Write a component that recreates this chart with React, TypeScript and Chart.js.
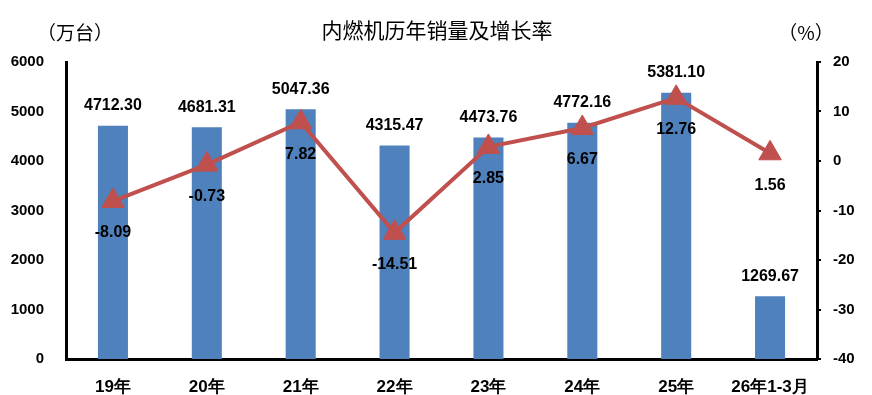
import React, { useEffect, useRef } from "react";
import { Chart, registerables } from "chart.js";

Chart.register(...registerables);

const categories = ["19年", "20年", "21年", "22年", "23年", "24年", "25年", "26年1-3月"];
const salesValues = [4712.30, 4681.31, 5047.36, 4315.47, 4473.76, 4772.16, 5381.10, 1269.67];
const growthValues: (number | null)[] = [-8.09, -0.73, 7.82, -14.51, 2.85, 6.67, 12.76, 1.56];
const titleText = "内燃机历年销量及增长率";
const leftUnit = "（万台）";
const rightUnit = "（%）";

const FONT = "'Liberation Sans', Arial, sans-serif";
const CJK = "'Noto Sans CJK SC', sans-serif";

export default function App() {
  const ref = useRef<HTMLCanvasElement | null>(null);
  useEffect(() => {
    if (!ref.current) return;
    const labelPlugin = {
      id: "labels",
      afterDatasetsDraw(chart: any) {
        const ctx = chart.ctx;
        ctx.save();
        ctx.fillStyle = "#000";
        ctx.textAlign = "center";
        ctx.textBaseline = "middle";
        ctx.font = `bold 16px ${FONT}`;
        const barMeta = chart.getDatasetMeta(0);
        barMeta.data.forEach((el: any, i: number) => {
          ctx.fillText(salesValues[i].toFixed(2), el.x, el.y - 20);
        });
        const lineMeta = chart.getDatasetMeta(1);
        lineMeta.data.forEach((el: any, i: number) => {
          const v = growthValues[i];
          if (v == null) return;
          ctx.fillText(v.toFixed(2), el.x, el.y + 32);
        });
        ctx.restore();
      },
      afterDraw(chart: any) {
        const ctx = chart.ctx;
        ctx.save();
        ctx.fillStyle = "#000";
        ctx.textAlign = "center";
        ctx.textBaseline = "middle";
        ctx.font = `21px ${CJK}`;
        ctx.fillText(titleText, 437, 30);
        ctx.font = `19px ${CJK}`;
        ctx.fillText(leftUnit, 75, 33);
        ctx.fillText(rightUnit, 806, 33);
        ctx.restore();
      },
    };
    const chart = new Chart(ref.current, {
      type: "bar",
      data: {
        labels: categories,
        datasets: [
          {
            type: "bar",
            data: salesValues,
            backgroundColor: "#4F81BD",
            yAxisID: "y",
            categoryPercentage: 1,
            barPercentage: 0.32,
            order: 2,
          },
          {
            type: "line",
            data: growthValues,
            borderColor: "#C0504D",
            backgroundColor: "#C0504D",
            borderWidth: 4,
            pointStyle: "triangle",
            pointRadius: 13,
            pointBackgroundColor: "#C0504D",
            pointBorderColor: "#C0504D",
            pointBorderWidth: 1,
            yAxisID: "y1",
            tension: 0,
            order: 1,
          } as any,
        ],
      },
      options: {
        animation: false,
        responsive: false,
        maintainAspectRatio: false,
        layout: { padding: { top: 62, left: 0, right: 0, bottom: 0 } },
        plugins: { legend: { display: false }, tooltip: { enabled: false }, title: { display: false } },
        scales: {
          x: {
            grid: { display: false },
            border: { display: true, color: "#000", width: 3 },
            ticks: { color: "#000", font: { family: FONT, size: 17, weight: "bold" }, padding: 10, maxRotation: 0 },
            afterFit(scale: any) { scale.height = 36; },
          },
          y: {
            position: "left",
            min: 0,
            max: 6000,
            grid: { display: false },
            border: { display: true, color: "#000", width: 3 },
            ticks: {
              stepSize: 1000,
              color: "#000",
              font: { family: FONT, size: 15, weight: "bold" },
              padding: 14,
              callback: (v: any) => String(v),
            },
            afterFit(scale: any) { scale.width = 66; },
          },
          y1: {
            position: "right",
            min: -40,
            max: 20,
            grid: { display: true, drawOnChartArea: false, drawTicks: true, tickLength: 4, color: "#000", lineWidth: 2 },
            border: { display: true, color: "#000", width: 3 },
            ticks: {
              stepSize: 10,
              color: "#000",
              font: { family: FONT, size: 15, weight: "bold" },
              padding: 12,
              callback: (v: any) => String(v),
            },
            afterFit(scale: any) { scale.width = 55; },
          },
        },
      } as any,
      plugins: [labelPlugin],
    });
    return () => chart.destroy();
  }, []);
  return (
    <div style={{ position: "fixed", left: 0, top: 0, width: 872, height: 395, background: "#fff" }}>
      <canvas ref={ref} width={872} height={395} style={{ width: 872, height: 395 }} />
    </div>
  );
}
